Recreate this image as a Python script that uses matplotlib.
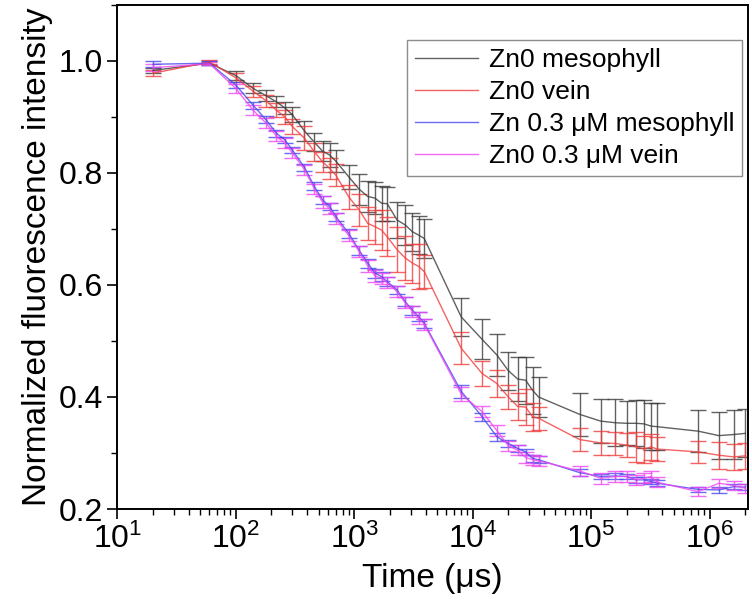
import matplotlib

matplotlib.use("Agg")
import matplotlib.pyplot as plt
from matplotlib.ticker import MultipleLocator, LogLocator, NullFormatter

plt.rcParams["font.family"] = ["Liberation Sans Narrow", "Liberation Sans", "DejaVu Sans"]

time_us = [20, 60, 100, 140, 180, 220, 260, 300, 380, 460, 540, 620, 700, 900,
           1100, 1300, 1500, 1700, 1900, 2300, 2700, 3100, 3500, 3900,
           8000, 12000, 16000, 20000, 24000, 28000, 32000, 36000,
           80000, 120000, 160000, 200000, 240000, 280000, 320000, 360000,
           800000, 1200000, 1600000, 2000000]

zn0_meso = [0.983, 0.996, 0.974, 0.951, 0.938, 0.927, 0.916, 0.904, 0.875, 0.855, 0.839, 0.832, 0.821, 0.793,
            0.771, 0.758, 0.755, 0.746, 0.745, 0.716, 0.707, 0.695, 0.689, 0.683,
            0.543, 0.503, 0.475, 0.447, 0.432, 0.430, 0.412, 0.400,
            0.369, 0.357, 0.354, 0.353, 0.353, 0.352, 0.348, 0.347,
            0.339, 0.331, 0.333, 0.335]
zn0_meso_err = [0.004, 0.003, 0.008, 0.009, 0.010, 0.010, 0.010, 0.013, 0.018, 0.016, 0.018, 0.022, 0.020, 0.021,
                0.028, 0.027, 0.028, 0.031, 0.030, 0.033, 0.036, 0.034, 0.034, 0.034,
                0.034, 0.036, 0.037, 0.034, 0.039, 0.042, 0.042, 0.036,
                0.039, 0.039, 0.042, 0.039, 0.041, 0.043, 0.042, 0.042,
                0.037, 0.042, 0.044, 0.043]

zn0_vein = [0.978, 0.998, 0.970, 0.946, 0.929, 0.912, 0.900, 0.883, 0.862, 0.838, 0.820, 0.808, 0.796, 0.757,
            0.734, 0.710, 0.704, 0.698, 0.686, 0.663, 0.648, 0.639, 0.633, 0.624,
            0.487, 0.442, 0.424, 0.400, 0.383, 0.382, 0.365, 0.362,
            0.324, 0.318, 0.317, 0.314, 0.311, 0.307, 0.311, 0.307,
            0.302, 0.296, 0.293, 0.295]
zn0_vein_err = [0.005, 0.003, 0.008, 0.010, 0.011, 0.012, 0.013, 0.014, 0.021, 0.016, 0.018, 0.019, 0.020, 0.022,
                0.028, 0.030, 0.030, 0.035, 0.035, 0.040, 0.040, 0.035, 0.040, 0.030,
                0.029, 0.022, 0.024, 0.021, 0.024, 0.032, 0.025, 0.021,
                0.021, 0.022, 0.021, 0.021, 0.027, 0.024, 0.023, 0.022,
                0.020, 0.024, 0.023, 0.023]

zn03_meso = [0.994, 0.996, 0.957, 0.921, 0.895, 0.871, 0.859, 0.841, 0.810, 0.776, 0.752, 0.740, 0.722, 0.692,
             0.662, 0.639, 0.621, 0.615, 0.606, 0.591, 0.570, 0.555, 0.543, 0.532,
             0.410, 0.365, 0.329, 0.317, 0.308, 0.302, 0.290, 0.288,
             0.265, 0.258, 0.259, 0.258, 0.252, 0.252, 0.249, 0.246,
             0.235, 0.234, 0.240, 0.239]
zn03_meso_err = [0.005, 0.003, 0.006, 0.006, 0.006, 0.006, 0.006, 0.006, 0.006, 0.007, 0.007, 0.007, 0.007, 0.008,
                 0.008, 0.008, 0.008, 0.008, 0.008, 0.008, 0.008, 0.008, 0.008, 0.008,
                 0.012, 0.007, 0.007, 0.006, 0.006, 0.006, 0.006, 0.006,
                 0.006, 0.005, 0.005, 0.005, 0.005, 0.005, 0.005, 0.005,
                 0.005, 0.005, 0.005, 0.005]

zn03_vein = [0.988, 0.995, 0.951, 0.912, 0.889, 0.866, 0.853, 0.836, 0.806, 0.772, 0.748, 0.736, 0.718, 0.688,
             0.660, 0.634, 0.616, 0.612, 0.604, 0.588, 0.568, 0.553, 0.541, 0.530,
             0.405, 0.374, 0.340, 0.313, 0.305, 0.292, 0.288, 0.286,
             0.268, 0.255, 0.258, 0.258, 0.252, 0.255, 0.258, 0.248,
             0.231, 0.246, 0.242, 0.237]
zn03_vein_err = [0.006, 0.003, 0.008, 0.009, 0.009, 0.009, 0.009, 0.009, 0.009, 0.009, 0.010, 0.010, 0.010, 0.010,
                 0.010, 0.010, 0.010, 0.010, 0.010, 0.010, 0.010, 0.010, 0.010, 0.010,
                 0.012, 0.010, 0.010, 0.009, 0.009, 0.009, 0.009, 0.009,
                 0.009, 0.010, 0.009, 0.009, 0.009, 0.009, 0.010, 0.009,
                 0.008, 0.008, 0.008, 0.008]

labels = ["Zn0 mesophyll", "Zn0 vein", "Zn 0.3 \u03bcM mesophyll", "Zn0 0.3 \u03bcM vein"]
colors = ["#3a3a3a", "#f03c3c", "#4646f0", "#f046f0"]
series = [(zn0_meso, zn0_meso_err), (zn0_vein, zn0_vein_err),
          (zn03_meso, zn03_meso_err), (zn03_vein, zn03_vein_err)]

fig = plt.figure(figsize=(7.52, 6.14), dpi=100)
ax = fig.add_axes([0.156, 0.171, 0.839, 0.821])

handles = []
for (vals, errs), color in zip(series, colors):
    cont = ax.errorbar(time_us, vals, yerr=errs, color=color, lw=1.0, elinewidth=1.0,
                       capsize=5.5, capthick=1.0, alpha=0.8)
    handles.append(cont[0])

ax.set_xscale("log")
ax.set_xlim(10, 2.12e6)
ax.set_ylim(0.2, 1.1)
ax.yaxis.set_minor_locator(MultipleLocator(0.1))
ax.xaxis.set_major_locator(LogLocator(base=10, numticks=10))
ax.xaxis.set_minor_locator(LogLocator(base=10, subs=range(2, 10), numticks=20))
ax.xaxis.set_minor_formatter(NullFormatter())
ax.set_yticks([0.2, 0.4, 0.6, 0.8, 1.0])
ax.set_yticklabels(["0.2", "0.4", "0.6", "0.8", "1.0"])

ax.tick_params(which="major", direction="out", length=7, width=1.2, labelsize=23, top=False, right=False)
ax.tick_params(which="minor", direction="out", length=4, width=1.0, top=False, right=False)
for sp in ax.spines.values():
    sp.set_linewidth(1.4)

ax.set_xlabel("Time (\u03bcs)", fontsize=24, labelpad=6)
ax.set_ylabel("Normalized fluorescence intensity", fontsize=24, labelpad=4)

leg = ax.legend(handles, labels, loc="upper right", bbox_to_anchor=(0.990, 0.93),
                frameon=True, fancybox=False, handlelength=2.4,
                handletextpad=0.4, labelspacing=0.3, borderpad=0.3, borderaxespad=0.0,
                prop={"family": ["Liberation Sans", "DejaVu Sans"], "size": 19})
leg.get_frame().set_edgecolor("#707070")
leg.get_frame().set_linewidth(1.0)

fig.savefig("out.png", dpi=100)
